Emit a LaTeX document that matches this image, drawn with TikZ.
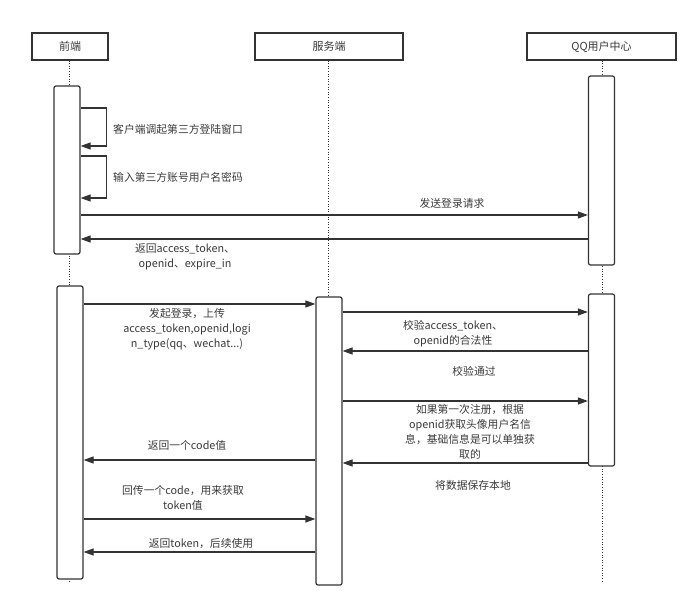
\documentclass[tikz,border=0pt]{standalone}
\usepackage{fontspec}
\setmainfont{Noto Sans CJK SC}
\usetikzlibrary{arrows.meta}
\definecolor{ln}{HTML}{333333}
\definecolor{tx}{HTML}{3A3A3A}
\begin{document}
\begin{tikzpicture}[x=1pt,y=-1pt,
  every node/.style={text=tx,font=\fontsize{11}{14}\selectfont},
  head/.style={draw=ln,line width=1.3pt,fill=white,minimum height=27pt,inner sep=0pt},
  act/.style={draw=ln,line width=1.2pt,fill=white,rounded corners=2pt,minimum width=26pt,inner sep=0pt},
  life/.style={draw=ln,line width=1pt,dash pattern=on 1pt off 1.6pt},
  msg/.style={draw=ln,line width=1.2pt,-{Triangle[length=10pt,width=7pt]}},
  lbl/.style={align=center,inner sep=0pt,font=\fontsize{10.8}{15}\selectfont}]
\useasboundingbox (0,0) rectangle (697,602);
% headers
\node[head,minimum width=76pt] (hf) at (70,46.5) {前端};
\node[head,minimum width=148pt] (hs) at (329,46.5) {服务端};
\node[head,minimum width=149pt] (hq) at (601.5,46.5) {QQ用户中心};
% lifelines
\coordinate (ef) at (69,582);
\coordinate (es) at (328,585);
\coordinate (eq) at (602,583);
\draw[life] (hf.south -| ef) -- (ef);
\draw[life] (hs.south -| es) -- (es);
\draw[life] (hq.south -| eq) -- (eq);
% activations
\node[act,minimum height=168pt] (f1) at (67,170) {};
\node[act,minimum height=293pt] (f2) at (70,432.5) {};
\node[act,minimum height=288pt] (s1) at (329,441) {};
\node[act,minimum height=189pt] (q1) at (601.5,170.5) {};
\node[act,minimum height=172pt] (q2) at (601.5,380) {};
% self loops
\draw[msg] (f1.east |- 0,108) -- ++(26,0) |- (f1.east |- 0,146);
\node[lbl,anchor=west] (l1) at (113,129) {客户端调起第三方登陆窗口};
\draw[msg] (f1.east |- 0,156) -- ++(26,0) |- (f1.east |- 0,198);
\node[lbl,anchor=west] (l2) at (113,177) {输入第三方账号用户名密码};
% phase 1
\draw[msg] (f1.east |- 0,215) -- (q1.west |- 0,215);
\node[lbl] (l3) at (452,203) {发送登录请求};
\draw[msg] (q1.west |- 0,239) -- (f1.east |- 0,239);
\node[lbl] (l4) at (185,256.5) {返回access\_token、\\openid、expire\_in};
% phase 2
\draw[msg] (f2.east |- 0,304) -- (s1.west |- 0,304);
\node[lbl] (l5) at (187,329.5) {发起登录，上传\\access\_token,openid,logi\\n\_type(qq、wechat...)};
\draw[msg] (s1.east |- 0,312) -- (q2.west |- 0,312);
\node[lbl] (l6) at (453,333.5) {校验access\_token、\\openid的合法性};
\draw[msg] (q2.west |- 0,351) -- (s1.east |- 0,351);
\node[lbl] (l7) at (474,371) {校验通过};
\draw[msg] (s1.east |- 0,401) -- (q2.west |- 0,401);
\node[lbl] (l8) at (470,431.5) {如果第一次注册，根据\\openid获取头像用户名信\\息，基础信息是可以单独获\\取的};
\draw[msg] (q2.west |- 0,463) -- (s1.east |- 0,463);
\node[lbl] (l9) at (473,485) {将数据保存本地};
\node[lbl] (l10) at (187,445) {返回一个code值};
\draw[msg] (s1.west |- 0,460) -- (f2.east |- 0,460);
\node[lbl] (l11) at (183,497.5) {回传一个code，用来获取\\token值};
\draw[msg] (f2.east |- 0,519) -- (s1.west |- 0,519);
\node[lbl] (l12) at (201,544) {返回token，后续使用};
\draw[msg] (s1.west |- 0,552) -- (f2.east |- 0,552);
\end{tikzpicture}
\end{document}
